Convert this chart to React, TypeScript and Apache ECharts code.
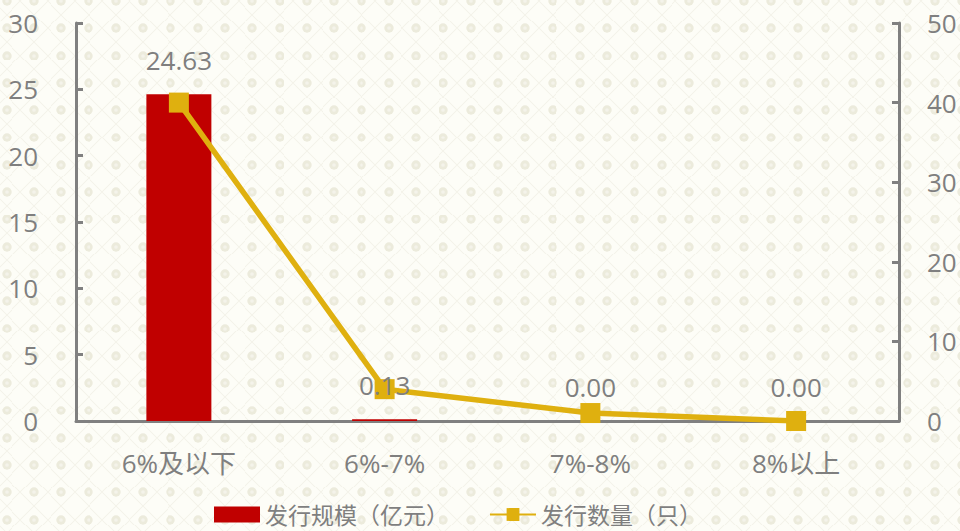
import React, { useEffect, useRef } from "react";
import * as echarts from "echarts";

const categories = ["6%及以下", "6%-7%", "7%-8%", "8%以上"];
const scaleValues = [24.63, 0.13, 0.0, 0.0];
const countValues = [40, 4, 1, 0];
const leftTicks = { min: 0, max: 30, interval: 5 };
const rightTicks = { min: 0, max: 50, interval: 10 };
const barName = "发行规模（亿元）";
const lineName = "发行数量（只）";

const FONT = '"Open Sans", "Noto Sans CJK SC", sans-serif';
const GREY = "#7f7f7f";
const AXIS = "#808080";
const RED = "#c00000";
const GOLD = "#dfb00f";

const tile =
  "data:image/svg+xml;utf8," +
  encodeURIComponent(
    `<svg xmlns="http://www.w3.org/2000/svg" width="27.3" height="27.3" viewBox="0 0 27.3 27.3">` +
      `<polygon points="13.65,0 27.3,13.65 13.65,27.3 0,13.65" fill="none" stroke="#f3f2e9" stroke-width="1"/>` +
      `<circle cx="13.65" cy="13.65" r="4.6" fill="#ecebdc"/>` +
      `<circle cx="13.65" cy="13.65" r="1.8" fill="#f4f3ea"/>` +
      `</svg>`
  );

export default function App() {
  const ref = useRef<HTMLDivElement>(null);
  useEffect(() => {
    if (!ref.current) return;
    const chart = echarts.init(ref.current, undefined, { renderer: "svg" });
    chart.setOption({
      animation: false,
      backgroundColor: "transparent",
      textStyle: { fontFamily: FONT },
      grid: { left: 76, right: 61, top: 23, bottom: 110, containLabel: false },
      legend: {
        bottom: 0,
        left: 209,
        itemGap: 40,
        itemWidth: 46,
        itemHeight: 16,
        textStyle: { fontSize: 23, color: GREY, fontFamily: FONT },
        data: [
          { name: barName, icon: "rect" },
          { name: lineName },
        ],
      },
      xAxis: {
        type: "category",
        data: categories,
        axisLine: { show: true, lineStyle: { color: AXIS, width: 3 } },
        axisTick: { show: false },
        axisLabel: { fontSize: 26, color: GREY, margin: 29, fontFamily: FONT },
      },
      yAxis: [
        {
          type: "value",
          min: leftTicks.min,
          max: leftTicks.max,
          interval: leftTicks.interval,
          axisLine: { show: true, lineStyle: { color: AXIS, width: 3 } },
          axisTick: { show: true, inside: true, length: 7, lineStyle: { color: AXIS, width: 3 } },
          splitLine: { show: false },
          axisLabel: { fontSize: 26, color: GREY, margin: 38, fontFamily: FONT },
        },
        {
          type: "value",
          position: "right",
          min: rightTicks.min,
          max: rightTicks.max,
          interval: rightTicks.interval,
          axisLine: { show: true, lineStyle: { color: AXIS, width: 3 } },
          axisTick: { show: true, inside: true, length: 7, lineStyle: { color: AXIS, width: 3 } },
          splitLine: { show: false },
          axisLabel: { fontSize: 26, color: GREY, margin: 28, fontFamily: FONT },
        },
      ],
      series: [
        {
          name: barName,
          type: "bar",
          yAxisIndex: 0,
          data: scaleValues,
          barWidth: 65,
          itemStyle: { color: RED },
          z: 2,
        },
        {
          name: lineName,
          type: "line",
          yAxisIndex: 1,
          data: countValues,
          symbol: "rect",
          symbolSize: 20,
          lineStyle: { color: GOLD, width: 5.5 },
          itemStyle: { color: GOLD },
          z: 3,
        },
        {
          name: "labels",
          type: "line",
          yAxisIndex: 0,
          data: scaleValues,
          symbol: "circle",
          symbolSize: 1,
          lineStyle: { opacity: 0 },
          itemStyle: { color: "rgba(0,0,0,0)" },
          z: 5,
          silent: true,
          label: {
            show: true,
            position: "top",
            distance: 21,
            fontSize: 26,
            color: GREY,
            fontFamily: FONT,
            formatter: (p: any) => Number(p.value).toFixed(2),
          },
        },
      ],
    });
    return () => chart.dispose();
  }, []);
  return (
    <div
      style={{
        position: "fixed",
        left: 0,
        top: 0,
        width: 960,
        height: 531,
        backgroundColor: "#fdfdf7",
        backgroundImage: `url("${tile}")`,
        backgroundSize: "27.3px 27.3px",
        backgroundPosition: "-7px -12.65px",
      }}
    >
      <div ref={ref} style={{ width: 960, height: 531 }} />
    </div>
  );
}
